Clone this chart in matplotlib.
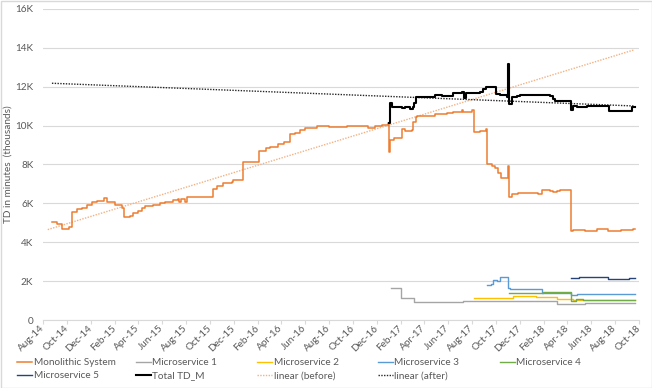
import matplotlib
matplotlib.use('Agg')
import matplotlib.pyplot as plt
from matplotlib.ticker import FuncFormatter, FixedLocator
from matplotlib.patches import Rectangle
from matplotlib.lines import Line2D

plt.rcParams['font.family'] = ['Lato', 'DejaVu Sans']

# x values are months elapsed since Aug 2014
tick_labels = ['Aug-14', 'Oct-14', 'Dec-14', 'Feb-15', 'Apr-15', 'Jun-15', 'Aug-15',
               'Oct-15', 'Dec-15', 'Feb-16', 'Apr-16', 'Jun-16', 'Aug-16', 'Oct-16',
               'Dec-16', 'Feb-17', 'Apr-17', 'Jun-17', 'Aug-17', 'Oct-17', 'Dec-17',
               'Feb-18', 'Apr-18', 'Jun-18', 'Aug-18', 'Oct-18']
tick_months = [2 * i for i in range(len(tick_labels))]

mono_x = [0.78, 1.2, 1.62, 2.2, 2.46, 2.83, 3.24, 3.66, 4.08, 4.5, 5.12, 5.4, 6.04, 6.6,
          6.82, 7.3, 7.58, 8.0, 8.28, 8.56, 9.26, 9.82, 10.23, 10.93, 11.3, 11.45, 11.55,
          11.9, 12.05, 14.3, 14.57, 15.13, 15.83, 15.97, 16.8, 18.15, 18.7, 19.04, 19.46,
          19.74, 20.25, 20.72, 21.14, 21.56, 21.98, 22.96, 24.0, 25.5, 27.3, 27.85, 28.4,
          28.97, 29.05, 29.15, 29.45, 30.09, 30.37, 30.93, 31.07, 31.29, 31.4, 32.89,
          33.86, 34.42, 35.12, 35.26, 35.96, 36.19, 36.66, 37.2, 37.28, 37.64, 37.92,
          38.2, 38.4, 38.98, 39.12, 39.32, 39.88, 41.56, 41.89, 42.53, 42.81, 43.09,
          43.37, 44.27, 44.5, 45.5, 46.45, 47.43, 48.5, 49.52, 49.7]
mono_y = [5040, 4950, 4680, 4800, 5574, 5694, 5745, 5917, 6054, 6140, 6294, 6088, 5917, 5745,
          5317, 5351, 5523, 5608, 5780, 5866, 5917, 6003, 6071, 6174, 6208, 6090, 6208,
          6050, 6346, 6723, 6894, 7032, 7117, 7203, 8113, 8711, 8831, 8917, 8880,
          9055, 9175, 9553, 9604, 9776, 9862, 9982, 9948, 9960, 9878, 9981, 10050,
          10120, 8660, 9261, 9347, 9810, 9740, 9780, 10203, 10461, 10513, 10600,
          10633, 10719, 10805, 10719, 10805, 9650, 9724, 9844, 8026, 7937, 7803,
          7580, 7289, 7937, 6311, 6483, 6517, 6483, 6689, 6655, 6600, 6655,
          6689, 4596, 4630, 4596, 4699, 4596, 4630, 4699, 4699]

ms1_x = [29.17, 29.5, 30.0, 31.1, 33.0, 35.26, 37.0, 43.09, 45.5, 48.0, 49.7]
ms1_y = [1629, 1663, 1130, 920, 930, 960, 980, 823, 850, 870, 870]

ms2_x = [36.16, 37.2, 39.46, 41.4, 42.8, 43.09, 44.5, 49.7]
ms2_y = [1115, 1149, 1235, 1200, 1160, 1080, 1050, 1050]

ms3_x = [37.28, 37.6, 37.78, 38.1, 38.34, 39.04, 39.2, 41.83, 44.27, 44.8, 49.7]
ms3_y = [1783, 1852, 2058, 2020, 2195, 1629, 1578, 1372, 1286, 1320, 1320]

ms4_x = [39.12, 41.92, 44.27, 44.7, 45.3, 49.7]
ms4_y = [1372, 1440, 995, 1063, 1029, 1029]

ms5_x = [44.27, 45.0, 47.43, 49.2, 49.7]
ms5_y = [2178, 2195, 2127, 2178, 2178]

total_x = [29.0, 29.15, 29.3, 30.09, 30.37, 30.8, 31.0, 31.15, 31.29, 32.89, 33.5, 34.4,
           35.12, 35.3, 35.5, 36.1, 36.66, 36.94, 37.2, 38.0, 38.34, 38.9, 39.04, 39.12,
           39.32, 39.74, 40.0, 42.53, 42.81, 42.95, 44.27, 44.5, 44.8, 45.2, 45.6, 47.5,
           49.39, 49.7]
total_y = [10120, 11147, 10977, 10890, 10977, 10840, 10977, 11147, 11456, 11576, 11540, 11662,
           11748, 11404, 11662, 11662, 11748, 11868, 11971, 11610, 11576, 11456, 13171, 11113,
           11456, 11542, 11576, 11542, 11353, 11268, 10805, 11010, 10942, 10977, 11010, 10770,
           10942, 10977]

trend_before_x = [0.4, 49.6]
trend_before_y = [4650, 13900]
trend_after_x = [0.75, 49.6]
trend_after_y = [12180, 11010]

W, H = 652, 388
fig = plt.figure(figsize=(W / 100, H / 100), dpi=100)
ax = fig.add_axes([43 / W, (H - 320) / H, (639 - 43) / W, (320 - 9) / H])

txt = '#595959'
grid = '#D9D9D9'
fs = 7.2

lb, = ax.plot(trend_before_x, trend_before_y, color='#F4B183', lw=1.0, ls=(0, (1, 1)), label='linear (before)')
la, = ax.plot(trend_after_x, trend_after_y, color='#262626', lw=1.0, ls=(0, (1, 1)), label='linear (after)')
l_mono, = ax.plot(mono_x, mono_y, drawstyle='steps-post', color='#ED7D31', lw=1.1, label='Monolithic System')
l1, = ax.plot(ms1_x, ms1_y, drawstyle='steps-post', color='#A5A5A5', lw=1.0, label='Microservice 1')
l2, = ax.plot(ms2_x, ms2_y, drawstyle='steps-post', color='#FFC000', lw=1.0, label='Microservice 2')
l3, = ax.plot(ms3_x, ms3_y, drawstyle='steps-post', color='#5B9BD5', lw=1.0, label='Microservice 3')
l4, = ax.plot(ms4_x, ms4_y, drawstyle='steps-post', color='#70AD47', lw=1.0, label='Microservice 4')
l5, = ax.plot(ms5_x, ms5_y, drawstyle='steps-post', color='#264478', lw=1.0, label='Microservice 5')
lt, = ax.plot(total_x, total_y, drawstyle='steps-post', color='#000000', lw=1.5, label='Total TD_M')

ax.set_xlim(0, 50)
ax.set_ylim(0, 16000)
ax.yaxis.set_major_locator(FixedLocator(range(0, 16001, 2000)))
ax.yaxis.set_major_formatter(FuncFormatter(lambda v, p: '0' if v == 0 else f'{int(v/1000)}K'))
ax.set_xticks(tick_months)
ax.set_xticklabels(tick_labels, rotation=45, ha='right', va='center', rotation_mode='anchor')
ax.grid(axis='y', color=grid, lw=0.8)
ax.set_axisbelow(True)
for s in ['top', 'right', 'left']:
    ax.spines[s].set_visible(False)
ax.spines['bottom'].set_color(grid)
ax.spines['bottom'].set_linewidth(0.8)
ax.tick_params(axis='y', length=0, pad=7, labelsize=fs, labelcolor=txt)
ax.tick_params(axis='x', length=3, color=grid, pad=2, labelsize=fs, labelcolor=txt)
fig.text(8 / W, 1 - 164.5 / H, 'TD in minutes  (thousands)', rotation=90, ha='center', va='center',
         fontsize=fs, color=txt)

# legend: 5 equally spaced columns, 2 rows
columns = [[l_mono, l5], [l1, lt], [l2, lb], [l3, la], [l4]]
col_x = [17, 136, 257, 378, 500]
for hs, cx in zip(columns, col_x):
    leg = fig.legend(hs, [h.get_label() for h in hs], ncol=1, loc='upper left',
                     bbox_to_anchor=(cx / W, 1 - 358 / H), frameon=False, fontsize=fs,
                     handlelength=1.5, handletextpad=0.15, labelspacing=0.45,
                     borderpad=0, borderaxespad=0)
    for t in leg.get_texts():
        t.set_color(txt)

fig.patches.append(Rectangle((0.5 / W, 0.5 / H), 1 - 1 / W, 1 - 1 / H, transform=fig.transFigure,
                             fill=False, edgecolor=grid, lw=1.0))

fig.savefig('out.png', dpi=100)
